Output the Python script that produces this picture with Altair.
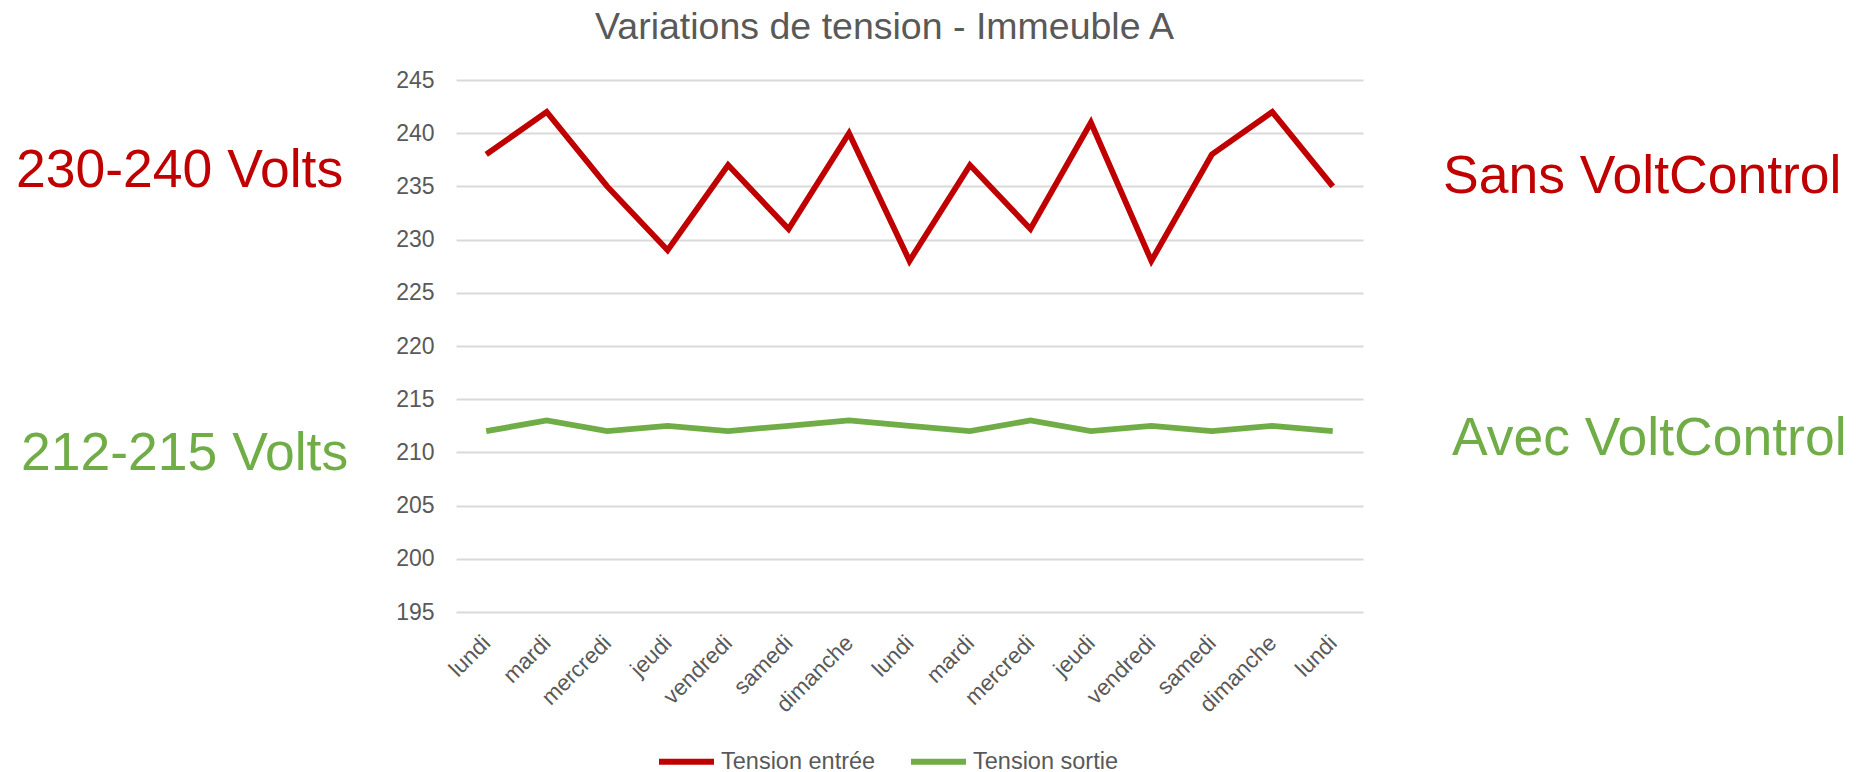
import altair as alt
import pandas as pd

# ---- data ----
days = ["lundi", "mardi", "mercredi", "jeudi", "vendredi", "samedi", "dimanche",
        "lundi", "mardi", "mercredi", "jeudi", "vendredi", "samedi", "dimanche", "lundi"]
tension_entree = [238, 242, 235, 229, 237, 231, 240, 228, 237, 231, 241, 228, 238, 242, 235]
tension_sortie = [212, 213, 212, 212.5, 212, 212.5, 213, 212.5, 212, 213, 212, 212.5, 212, 212.5, 212]
series = ["Tension entrée", "Tension sortie"]
colors = ["#C00000", "#70AD47"]
y_ticks = [195, 200, 205, 210, 215, 220, 225, 230, 235, 240, 245]
title_text = "Variations de tension - Immeuble A"
left_notes = ["230-240 Volts", "212-215 Volts"]
right_notes = ["Sans VoltControl", "Avec VoltControl"]

rows = []
for i, d in enumerate(days):
    rows.append({"idx": i, "day": d, "serie": series[0], "value": tension_entree[i]})
    rows.append({"idx": i, "day": d, "serie": series[1], "value": tension_sortie[i]})
df = pd.DataFrame(rows)

FONT = "Liberation Sans"
GREY = "#595959"
label_expr = "[" + ",".join("'" + d + "'" for d in days) + "][datum.value]"

lines = alt.Chart(df).mark_line(strokeWidth=5.8).encode(
    x=alt.X("idx:O", title=None,
            scale=alt.Scale(type="point", padding=0.5),
            axis=alt.Axis(labelExpr=label_expr, labelAngle=-45, labelAlign="right",
                          labelBaseline="middle", labelFontSize=22.5, labelColor=GREY,
                          labelPadding=27, domain=False, ticks=False, grid=False)),
    y=alt.Y("value:Q", title=None,
            scale=alt.Scale(domain=[195, 245], nice=False, zero=False),
            axis=alt.Axis(values=y_ticks, grid=True, gridColor="#D9D9D9", gridWidth=2,
                          domain=False, ticks=False, labelFontSize=23, labelColor=GREY,
                          labelPadding=22)),
    color=alt.Color("serie:N", scale=alt.Scale(domain=series, range=colors),
                    legend=alt.Legend(orient="none", legendX=200, legendY=651,
                                      direction="horizontal", title=None,
                                      symbolType="stroke", symbolSize=3025,
                                      symbolStrokeWidth=6, labelFontSize=23.5,
                                      labelColor=GREY, labelPadding=4, columnPadding=23,
                                      labelFont=FONT)),
)


def note(text, color, x, y):
    return alt.Chart(pd.DataFrame({"t": [text]})).mark_text(
        align="left", baseline="alphabetic", fontSize=53.5, color=color, font=FONT
    ).encode(text="t:N", x=alt.value(x), y=alt.value(y))


chart = alt.layer(
    lines,
    note(left_notes[0], colors[0], -440, 107),
    note(left_notes[1], colors[1], -435, 390),
    note(right_notes[0], colors[0], 987, 113),
    note(right_notes[1], colors[1], 996, 375),
).properties(
    width=907,
    height=532,
    padding={"left": 448, "top": 72, "right": 494, "bottom": 160},
    autosize=alt.AutoSizeParams(type="none"),
    title=alt.TitleParams(title_text, fontSize=37.5, color=GREY, font=FONT,
                          fontWeight="normal", anchor="middle", frame="group",
                          dx=-25, offset=23),
).configure(font=FONT).configure_view(stroke=None)

chart.save("out.html", embed_options={"renderer": "svg", "actions": False})
